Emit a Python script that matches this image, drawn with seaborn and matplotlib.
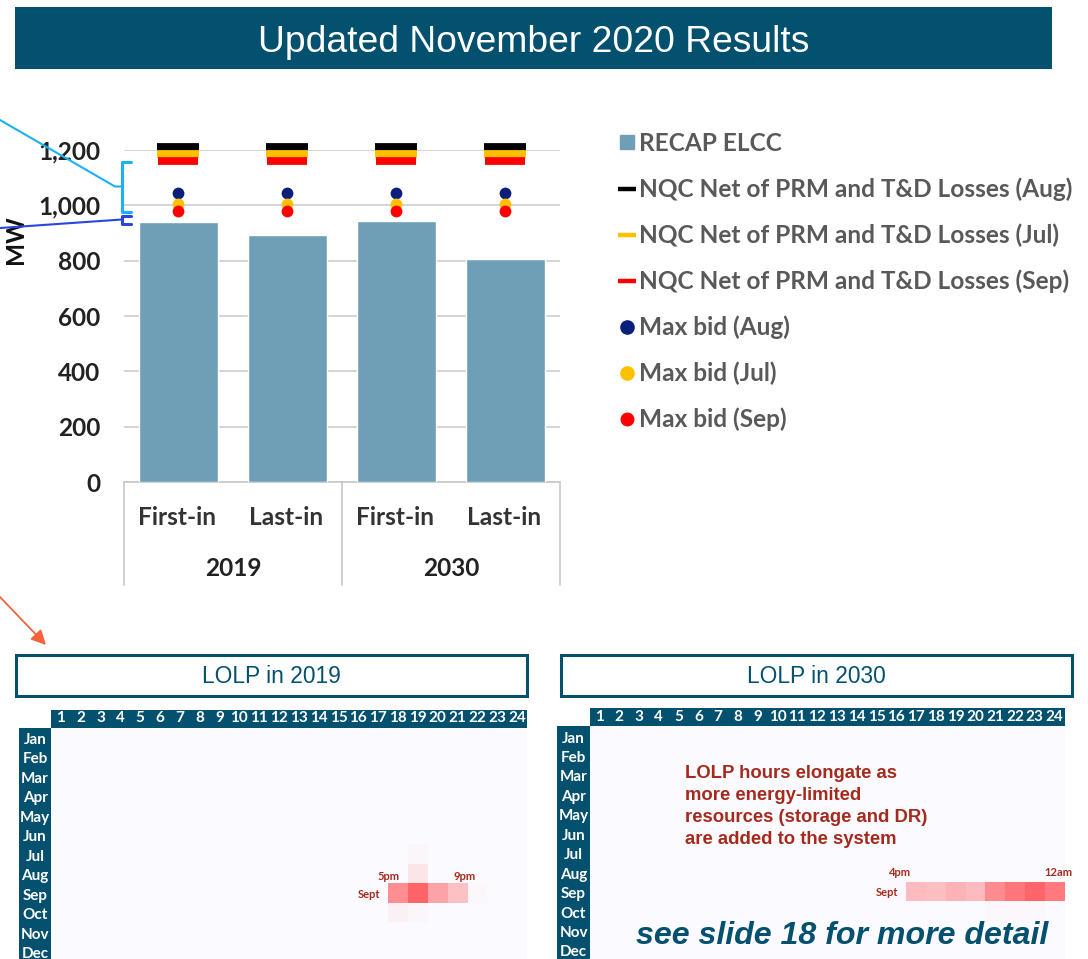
import numpy as np
import pandas as pd
import matplotlib
matplotlib.use("Agg")
import matplotlib.pyplot as plt
import seaborn as sns
from matplotlib.lines import Line2D
from matplotlib.patches import Rectangle, FancyArrowPatch
from matplotlib.colors import LinearSegmentedColormap
from matplotlib.transforms import blended_transform_factory, ScaledTranslation

# ---------- data ----------
TITLE = "Updated November 2020 Results"
case_labels = ["First-in", "Last-in", "First-in", "Last-in"]
case_keys = ["2019 First-in", "2019 Last-in", "2030 First-in", "2030 Last-in"]
year_labels = ["2019", "2030"]
recap_elcc = [938, 891, 942, 805]
nqc_aug = [1212, 1212, 1212, 1212]
nqc_jul = [1187, 1187, 1187, 1187]
nqc_sep = [1160, 1160, 1160, 1160]
max_bid_aug = [1044, 1044, 1044, 1044]
max_bid_jul = [1005, 1005, 1005, 1005]
max_bid_sep = [980, 980, 980, 980]
y_ticks = [0, 200, 400, 600, 800, 1000, 1200]
y_tick_labels = ["0", "200", "400", "600", "800", "1,000", "1,200"]
legend_labels = ["RECAP ELCC",
                 "NQC Net of PRM and T&D Losses (Aug)",
                 "NQC Net of PRM and T&D Losses (Jul)",
                 "NQC Net of PRM and T&D Losses (Sep)",
                 "Max bid (Aug)", "Max bid (Jul)", "Max bid (Sep)"]
months = ["Jan", "Feb", "Mar", "Apr", "May", "Jun", "Jul", "Aug", "Sep", "Oct", "Nov", "Dec"]
hours = list(range(1, 25))
# non-zero LOLP cells: (month, hour, relative value)
lolp_2019 = [("Jul", 19, 0.03), ("Aug", 19, 0.14), ("Sep", 18, 0.72), ("Sep", 19, 1.0),
             ("Sep", 20, 0.58), ("Sep", 21, 0.38), ("Sep", 22, 0.02),
             ("Oct", 18, 0.07), ("Oct", 19, 0.03)]
lolp_2030 = [("Sep", 16, 0.01), ("Sep", 17, 0.42), ("Sep", 18, 0.40), ("Sep", 19, 0.48),
             ("Sep", 20, 0.42), ("Sep", 21, 0.74), ("Sep", 22, 0.88), ("Sep", 23, 1.0),
             ("Sep", 24, 0.85), ("Oct", 21, 0.02), ("Oct", 22, 0.02), ("Oct", 23, 0.02)]

# ---------- style ----------
W, H = 1088, 959
NAVY = "#04506F"
BAR = "#6F9FB6"
TXT = "#595959"
DARKRED = "#A62A1C"
sns.set_theme(style="white")
plt.rcParams["font.family"] = ["Lato", "DejaVu Sans"]

fig = plt.figure(figsize=(W / 100, H / 100), dpi=100, facecolor="white")


def px_axes(x0, y0, x1, y1, **kw):
    return fig.add_axes([x0 / W, 1 - y1 / H, (x1 - x0) / W, (y1 - y0) / H], **kw)


def fx(x):
    return x / W


def fy(y):
    return 1 - y / H


def frect(x0, y0, x1, y1, **kw):
    r = Rectangle((fx(x0), fy(y1)), (x1 - x0) / W, (y1 - y0) / H, transform=fig.transFigure, **kw)
    fig.add_artist(r)
    return r


def fline(xs, ys, color, lw):
    fig.add_artist(Line2D([fx(x) for x in xs], [fy(y) for y in ys], transform=fig.transFigure,
                          color=color, lw=lw, zorder=20, solid_joinstyle="round"))


# ---------- header ----------
frect(15, 7, 1052, 69, facecolor=NAVY, edgecolor="none", zorder=-1)
fig.text(fx(533.5), fy(43), TITLE, color="white", ha="center", va="center",
         family="Liberation Sans", fontsize=26.85)

# ---------- main chart ----------
ax = px_axes(124, 150, 560, 482)
df = pd.DataFrame({"case": case_keys, "elcc": recap_elcc})
sns.barplot(data=df, x="case", y="elcc", order=case_keys, color=BAR, saturation=1,
            width=0.72, ax=ax, zorder=3)
pos = np.arange(len(case_keys)) - 0.005
for vals, col, half in [(nqc_aug, "black", 0.195), (nqc_jul, "#FFC000", 0.195), (nqc_sep, "#FF0000", 0.185)]:
    ax.hlines(vals, pos - half, pos + half, color=col, lw=5.6, zorder=4, clip_on=False)
for vals, col in [(max_bid_aug, "#0B1F7A"), (max_bid_jul, "#FFC000"), (max_bid_sep, "#FF0000")]:
    sns.scatterplot(x=pos, y=vals, color=col, s=72, linewidth=0, ax=ax, zorder=5, clip_on=False, legend=False)
ax.set_xlim(-0.5, 3.5)
ax.set_ylim(0, 1200)
ax.set_yticks(y_ticks, y_tick_labels)
ax.set_xticks(np.arange(len(case_keys)) - 0.01, case_labels)
ax.grid(axis="y", color="#D4D4D4", lw=1.4, zorder=0)
ax.set_axisbelow(True)
for s in ["top", "left", "right"]:
    ax.spines[s].set_visible(False)
ax.spines["bottom"].set_color("#C8C8C8")
ax.spines["bottom"].set_linewidth(1.2)
ax.tick_params(axis="y", length=0, pad=17, labelsize=17.6, labelcolor="#222222")
ax.tick_params(axis="x", length=0, pad=17.5, labelsize=17.6, labelcolor="#333333")
for t in ax.get_xticklabels() + ax.get_yticklabels():
    t.set_fontweight("bold")
ax.set_xlabel("")
ax.set_ylabel("MW", fontsize=17.6, fontweight="bold", color="#111111")
ax.yaxis.set_label_coords(-0.2225, 0.73)
tr = blended_transform_factory(ax.transData, ax.transAxes)
for x in [-0.5, 1.5, 3.5]:
    ax.plot([x, x], [0, -103 / 332], transform=tr, color="#C8C8C8", lw=1.2, clip_on=False)
for x, lab in zip([0.5, 2.5], year_labels):
    ax.text(x, -87 / 332, lab, transform=tr, ha="center", va="center", fontsize=17.6,
            fontweight="bold", color="#222222")

handles = [
    Line2D([], [], ls="", marker="s", ms=10.5, color=BAR),
    Line2D([], [], color="black", lw=3.2, solid_capstyle="butt"),
    Line2D([], [], color="#FFC000", lw=3.2, solid_capstyle="butt"),
    Line2D([], [], color="#FF0000", lw=3.2, solid_capstyle="butt"),
    Line2D([], [], ls="", marker="o", ms=9.5, color="#0B1F7A"),
    Line2D([], [], ls="", marker="o", ms=9.5, color="#FFC000"),
    Line2D([], [], ls="", marker="o", ms=9, color="#FF0000"),
]
leg = fig.legend(handles, legend_labels, loc="upper left", bbox_to_anchor=(fx(617.5), fy(132)),
                 frameon=False, fontsize=17.6, handlelength=0.76, handletextpad=0.13,
                 labelspacing=0.92, borderpad=0, borderaxespad=0)
for t in leg.get_texts():
    t.set_color(TXT)
    t.set_fontweight("bold")

# ---------- callouts ----------
CYAN = "#1AB2F5"
BLUE = "#2A45E0"
fline([0, 115, 122], [120, 186.5, 186.5], CYAN, 1.5)
fline([131, 122, 122, 131], [162, 162, 212, 212], CYAN, 2.2)
fline([0, 122], [228, 219.5], BLUE, 1.5)
fline([131, 122, 122, 131], [216, 216, 224, 224], BLUE, 2.2)
fig.add_artist(FancyArrowPatch((fx(0), fy(597)), (fx(46), fy(645)), transform=fig.transFigure,
                               arrowstyle="-|>", mutation_scale=22, color="#F4623A", lw=1.3,
                               shrinkA=0, shrinkB=0, zorder=20))


# ---------- heat maps ----------
cmap = LinearSegmentedColormap.from_list("lolp", ["#FBFAFE", "#FF6468"])
down = ScaledTranslation(0, -2 / 72, fig.dpi_scale_trans)


def heat(cells, x0, x1, head_top, head_bot, left, title, box):
    frame = pd.DataFrame(0.0, index=months, columns=hours)
    for m, h, v in cells:
        frame.loc[m, h] = v
    a = px_axes(x0, head_bot, x1, head_bot + 19.45 * 12)
    sns.heatmap(frame, cmap=cmap, vmin=0, vmax=1, cbar=False, ax=a, square=False,
                linewidths=0, xticklabels=hours, yticklabels=months)
    a.xaxis.tick_top()
    a.tick_params(axis="x", length=0, pad=1.5, labelsize=11, labelcolor="white", rotation=0)
    a.tick_params(axis="y", length=0, pad=11.5, labelsize=11, labelcolor="white", rotation=0)
    for t in a.get_xticklabels():
        t.set_fontweight("bold")
    for t in a.get_yticklabels():
        t.set_fontweight("bold")
        t.set_ha("center")
        t.set_transform(t.get_transform() + down)
    a.set_xlabel("")
    a.set_ylabel("")
    frect(x0, head_top, x1, head_bot, facecolor=NAVY, edgecolor="none", zorder=-1)
    frect(left, head_bot, x0, H, facecolor=NAVY, edgecolor="none", zorder=-1)
    frect(box[0], box[1], box[2], box[3], facecolor="white", edgecolor=NAVY, lw=2.2, zorder=2)
    fig.text(fx((box[0] + box[2]) / 2), fy((box[1] + box[3]) / 2 + 1.5), title, color=NAVY, ha="center",
             va="center", family="Liberation Sans", fontsize=16.4, zorder=3)
    return a


heat(lolp_2019, 51, 527, 709.5, 727.5, 19, "LOLP in 2019", (16, 655, 527, 695.5))
heat(lolp_2030, 589.5, 1064.5, 708, 726, 557, "LOLP in 2030", (561, 655, 1072, 695.5))


def small(x, y, s):
    fig.text(fx(x), fy(y), s, color=DARKRED, ha="center", va="center", fontsize=8, fontweight="bold", zorder=10)


small(389, 876, "5pm")
small(465, 876, "9pm")
small(369, 894, "Sept")
small(900, 873, "4pm")
small(1058, 873, "12am")
small(887, 892, "Sept")

for y, s in zip([773, 795, 817, 840], ["LOLP hours elongate as", "more energy-limited",
                                      "resources (storage and DR)", "are added to the system"]):
    fig.text(fx(685), fy(y), s, color=DARKRED, ha="left", va="center", family="Liberation Sans",
             fontsize=13.3, fontweight="bold", zorder=10)
fig.text(fx(636), fy(936), "see slide 18 for more detail", color=NAVY, ha="left", va="center",
         family="Liberation Sans", fontsize=23.1, fontweight="bold", style="italic", zorder=10)

fig.savefig("out.png", dpi=100, facecolor="white")
